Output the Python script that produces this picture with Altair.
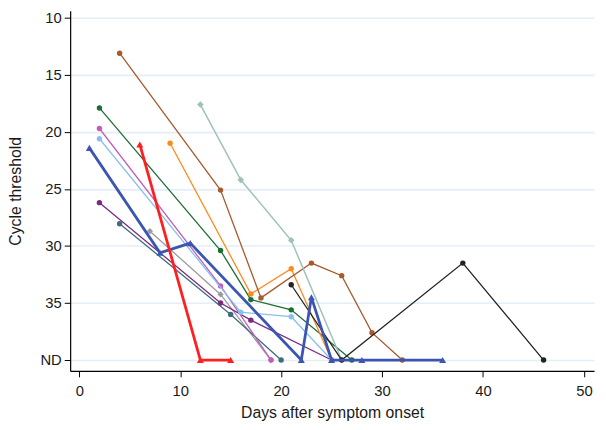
import altair as alt
import pandas as pd

ND = 40

# series: name, colour, shape, line width
gray_days = [7, 14, 19]
gray_ct = [28.7, 34.25, ND]
teal_days = [4, 15, 20]
teal_ct = [28.05, 36.0, ND]
purple_days = [2, 14, 17, 25]
purple_ct = [26.2, 35.0, 36.5, ND]
pink_days = [2, 14, 19]
pink_ct = [19.7, 33.5, ND]
lightblue_days = [2, 16, 21, 25]
lightblue_ct = [20.6, 35.8, 36.2, ND]
green_days = [2, 14, 17, 21, 27]
green_ct = [17.9, 30.4, 34.7, 35.6, ND]
orange_days = [9, 17, 21, 25]
orange_ct = [21.0, 34.2, 32.0, ND]
brown_days = [4, 14, 18, 23, 26, 29, 32]
brown_ct = [13.1, 25.1, 34.55, 31.5, 32.6, 37.6, ND]
sage_days = [12, 16, 21, 26]
sage_ct = [17.6, 24.2, 29.5, ND]
black_days = [21, 26, 38, 46]
black_ct = [33.4, ND, 31.5, ND]
blue_days = [1, 8, 11, 22, 23, 25, 28, 36]
blue_ct = [21.4, 30.6, 29.75, ND, 34.5, ND, ND, ND]
red_days = [6, 12, 15]
red_ct = [21.1, ND, ND]

series_names = ["gray", "teal", "purple", "pink", "lightblue", "green",
                "orange", "brown", "sage", "black", "blue", "red"]
series_colors = ["#9b9b9b", "#3f6b7b", "#7a2a80", "#c45cba", "#88c0ec", "#1b6e34",
                 "#ff8a1c", "#a65a2e", "#9fc2b6", "#222222", "#3b55b3", "#ff1f1f"]
series_shapes = ["diamond", "circle", "circle", "circle", "circle", "circle",
                 "circle", "circle", "diamond", "circle", "triangle-up", "triangle-up"]
series_widths = [1.3, 1.3, 1.3, 1.3, 1.3, 1.3, 1.3, 1.3, 1.5, 1.3, 2.8, 2.8]
series_sizes = [40, 30, 30, 30, 30, 30, 30, 30, 45, 30, 50, 50]

series_data = [
    (gray_days, gray_ct), (teal_days, teal_ct), (purple_days, purple_ct),
    (pink_days, pink_ct), (lightblue_days, lightblue_ct), (green_days, green_ct),
    (orange_days, orange_ct), (brown_days, brown_ct), (sage_days, sage_ct),
    (black_days, black_ct), (blue_days, blue_ct), (red_days, red_ct),
]

y_ticks = [10, 15, 20, 25, 30, 35, 40]
x_ticks = [0, 10, 20, 30, 40, 50]

rows = []
for i, (name, (d, c)) in enumerate(zip(series_names, series_data)):
    for j, (dd, cc) in enumerate(zip(d, c)):
        rows.append({"series": name, "order": i, "idx": j, "day": dd, "ct": cc})
df = pd.DataFrame(rows)

x_enc = alt.X("day:Q",
              scale=alt.Scale(domain=[-0.9, 51.0], nice=False, zero=False),
              axis=alt.Axis(values=x_ticks, title="Days after symptom onset",
                            grid=False, titlePadding=6, labelPadding=7))
y_enc = alt.Y("ct:Q",
              scale=alt.Scale(domain=[9.38, 40.95], reverse=True, nice=False, zero=False),
              axis=alt.Axis(values=y_ticks, title="Cycle threshold",
                            labelExpr="datum.value == 40 ? 'ND' : datum.value",
                            grid=True, gridColor="#e4eef7", gridWidth=1.6,
                            titlePadding=17, labelPadding=3))

layers = []
for i, name in enumerate(series_names):
    sub = alt.Chart(df).transform_filter(alt.datum.series == name)
    line = sub.mark_line(strokeWidth=series_widths[i], color=series_colors[i]).encode(
        x=x_enc, y=y_enc, order="idx:Q")
    pts = sub.mark_point(filled=True, opacity=1, shape=series_shapes[i],
                         size=series_sizes[i], color=series_colors[i]).encode(
        x=x_enc, y=y_enc)
    layers.extend([line, pts])

chart = alt.layer(*layers).properties(
    width=531, height=365,
    autosize=alt.AutoSizeParams(type="none"),
    padding={"left": 63, "top": 0, "right": 4, "bottom": 49},
).configure_view(stroke=None).configure_axis(
    domainColor="#000000", domainWidth=1.2, tickColor="#000000", tickSize=6,
    labelFont="Liberation Sans", titleFont="Liberation Sans",
    labelFontSize=15, titleFontSize=16, labelColor="#1a1a1a", titleColor="#1a1a1a",
    titleFontWeight="normal"
)

chart.save("out.html", embed_options={"renderer": "svg", "actions": False})
